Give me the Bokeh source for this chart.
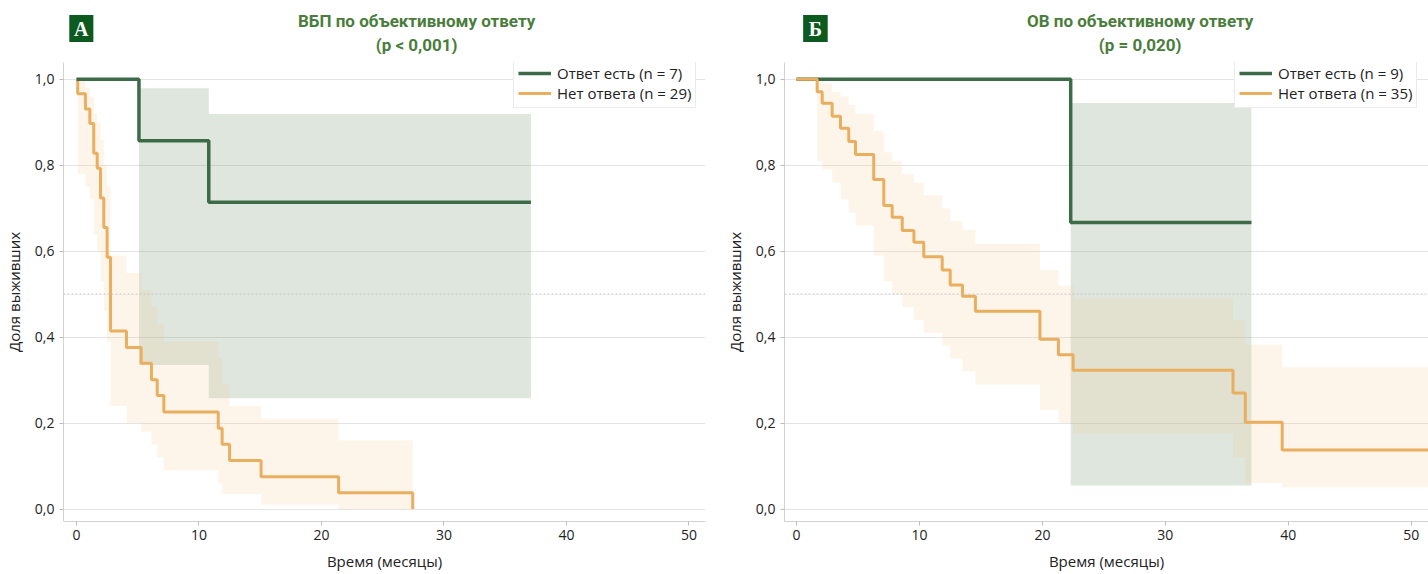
from bokeh.plotting import figure
from bokeh.layouts import row, column
from bokeh.models import Range1d, FixedTicker, Span, Legend, LegendItem, CustomJSTickFormatter
from bokeh.core.properties import value
from bokeh.embed import file_html
from bokeh.resources import INLINE

# ---------------- Panel A (ВБП) ----------------
a_resp_t  = [0.0, 5.1, 10.8, 37.1]
a_resp_s  = [1.0, 0.857, 0.714, 0.714]
a_resp_lo = [1.0, 0.335, 0.258, 0.258]
a_resp_hi = [1.0, 0.979, 0.919, 0.919]

a_non_t  = [0.0, 0.1, 0.73, 1.09, 1.41, 1.69, 1.96, 2.23, 2.5, 2.78, 4.08, 5.28, 6.12, 6.59, 7.13,
            11.57, 11.89, 12.5, 15.07, 21.4, 27.45]
a_non_s  = [1.0, 0.966, 0.931, 0.897, 0.828, 0.793, 0.724, 0.655, 0.586, 0.414, 0.376, 0.339, 0.301,
            0.264, 0.226, 0.188, 0.151, 0.113, 0.075, 0.038, 0.0]
a_non_lo = [1.0, 0.78, 0.75, 0.72, 0.64, 0.60, 0.53, 0.46, 0.39, 0.24, 0.20, 0.18, 0.15, 0.12, 0.09,
            0.06, 0.035, 0.035, 0.01, 0.0, 0.0]
a_non_hi = [1.0, 1.0, 0.98, 0.96, 0.92, 0.90, 0.86, 0.80, 0.75, 0.59, 0.55, 0.51, 0.47, 0.43, 0.39,
            0.35, 0.29, 0.24, 0.21, 0.16, 0.0]

# ---------------- Panel B (ОВ) ----------------
b_resp_t  = [0.0, 22.3, 37.0]
b_resp_s  = [1.0, 0.667, 0.667]
b_resp_lo = [1.0, 0.055, 0.055]
b_resp_hi = [1.0, 0.945, 0.945]

b_non_t  = [0.0, 1.68, 2.09, 2.9, 3.58, 4.25, 4.8, 6.28, 7.1, 7.78, 8.6, 9.55, 10.35, 11.85, 12.5,
            13.5, 14.55, 19.8, 21.3, 22.5, 35.5, 36.5, 39.5, 52.0]
b_non_s  = [1.0, 0.971, 0.944, 0.914, 0.886, 0.855, 0.825, 0.767, 0.706, 0.679, 0.648, 0.621, 0.587,
            0.556, 0.521, 0.495, 0.46, 0.395, 0.359, 0.323, 0.27, 0.202, 0.1375, 0.1375]
b_non_lo = [1.0, 0.81, 0.79, 0.76, 0.72, 0.69, 0.66, 0.59, 0.53, 0.50, 0.47, 0.44, 0.41, 0.38, 0.35,
            0.32, 0.29, 0.23, 0.20, 0.176, 0.12, 0.06, 0.05, 0.05]
b_non_hi = [1.0, 1.0, 0.99, 0.97, 0.96, 0.94, 0.92, 0.88, 0.83, 0.81, 0.78, 0.76, 0.73, 0.70, 0.67,
            0.65, 0.617, 0.556, 0.52, 0.49, 0.44, 0.383, 0.33, 0.33]

x_ticks = [0, 10, 20, 30, 40, 50]
y_ticks = [0.0, 0.2, 0.4, 0.6, 0.8, 1.0]

GREEN = "#3e6b47"
ORANGE = "#e9ae5e"
GREEN_CI = "#6f8f6a"
ORANGE_CI = "#f5c98a"
TITLE_C = "#4a7d3c"
BADGE = "#0c5a20"
TXT = "#222222"
FONT = "Open Sans"
HEAD_H = 54


def make_header(width, title1, title2, tx, letter, lx):
    h = figure(width=width, height=HEAD_H, output_backend="svg", toolbar_location=None,
               x_range=Range1d(0, width), y_range=Range1d(0, HEAD_H),
               x_axis_type=None, y_axis_type=None, title=None)
    h.min_border = 0
    h.outline_line_color = None
    h.xgrid.visible = False
    h.ygrid.visible = False
    h.text(x=[tx, tx], y=[HEAD_H - 20, HEAD_H - 44], text=[title1, title2],
           text_align="center", text_baseline="middle",
           text_font=value("Roboto"), text_font_style="bold",
           text_font_size="17px", text_color=TITLE_C)
    h.rect(x=[lx], y=[HEAD_H - 28], width=27, height=27, fill_color=BADGE, line_color=None)
    h.text(x=[lx], y=[HEAD_H - 28], text=[letter], text_align="center", text_baseline="middle",
           text_font=value("Liberation Serif"), text_font_style="bold",
           text_font_size="20px", text_color="white")
    return h


def make_panel(width, mb_left, mb_right, xr, resp, non, resp_label, non_label, green_on_top):
    p = figure(width=width, height=519, output_backend="svg", toolbar_location=None,
               x_range=Range1d(*xr), y_range=Range1d(-0.029, 1.039), title=None)
    p.min_border_left = mb_left
    p.min_border_right = mb_right
    p.min_border_top = 8
    p.min_border_bottom = 48
    p.outline_line_color = None
    p.background_fill_color = "white"
    p.border_fill_color = "white"

    p.xgrid.grid_line_color = None
    p.ygrid.grid_line_color = "#e4e4e4"
    p.ygrid.grid_line_width = 1

    p.xaxis.ticker = FixedTicker(ticks=x_ticks)
    p.yaxis.ticker = FixedTicker(ticks=y_ticks)
    p.yaxis.formatter = CustomJSTickFormatter(code="return tick.toFixed(1).replace('.', ',');")
    for ax in (p.xaxis, p.yaxis):
        ax.axis_line_color = "#d2d2d2"
        ax.major_tick_line_color = "#bdbdbd"
        ax.major_tick_out = 4
        ax.major_tick_in = 0
        ax.minor_tick_line_color = None
        ax.major_label_text_font = FONT
        ax.major_label_text_font_size = "14px"
        ax.major_label_text_color = TXT
        ax.axis_label_text_font = FONT
        ax.axis_label_text_font_size = "15px"
        ax.axis_label_text_font_style = "normal"
        ax.axis_label_text_color = TXT
    p.xaxis.axis_label = "Время (месяцы)"
    p.yaxis.axis_label = "Доля выживших"
    p.xaxis.major_label_standoff = 4
    p.xaxis.axis_label_standoff = 8
    p.yaxis.major_label_standoff = 5
    p.yaxis.axis_label_standoff = 8

    p.add_layout(Span(location=0.5, dimension="width", line_color="#c4c4c4",
                      line_dash="2 2", line_width=1))

    rt, rs, rlo, rhi = resp
    nt, ns, nlo, nhi = non
    p.varea_step(x=rt, y1=rlo, y2=rhi, step_mode="after", fill_color=GREEN_CI, fill_alpha=0.22)
    p.varea_step(x=nt, y1=nlo, y2=nhi, step_mode="after", fill_color=ORANGE_CI, fill_alpha=0.18)

    if green_on_top:
        ln = p.step(x=nt, y=ns, mode="after", line_color=ORANGE, line_width=3)
        lr = p.step(x=rt, y=rs, mode="after", line_color=GREEN, line_width=3.5)
    else:
        lr = p.step(x=rt, y=rs, mode="after", line_color=GREEN, line_width=3.5)
        ln = p.step(x=nt, y=ns, mode="after", line_color=ORANGE, line_width=3)

    legend = Legend(items=[LegendItem(label=resp_label, renderers=[lr]),
                           LegendItem(label=non_label, renderers=[ln])],
                    location=(450, 413))
    legend.label_text_font = FONT
    legend.label_text_font_size = "15px"
    legend.label_text_color = TXT
    legend.glyph_width = 33
    legend.glyph_height = 20
    legend.label_height = 20
    legend.label_standoff = 6
    legend.spacing = 0
    legend.padding = 4
    legend.margin = 0
    legend.border_line_color = "#d8d8d8"
    legend.background_fill_alpha = 1.0
    p.add_layout(legend)
    return p


ha = make_header(720, "ВБП по объективному ответу", "(p < 0,001)", 396, "А", 20)
pa = make_panel(720, 63, 15, (-1.06, 51.35),
                (a_resp_t, a_resp_s, a_resp_lo, a_resp_hi), (a_non_t, a_non_s, a_non_lo, a_non_hi),
                "Ответ есть (n = 7)", "Нет ответа (n = 29)", True)
hb = make_header(708, "ОВ по объективному ответу", "(p = 0,020)", 391, "Б", 34)
pb = make_panel(708, 64, 0, (-0.976, 51.4),
                (b_resp_t, b_resp_s, b_resp_lo, b_resp_hi), (b_non_t, b_non_s, b_non_lo, b_non_hi),
                "Ответ есть (n = 9)", "Нет ответа (n = 35)", False)

layout = row(column(ha, pa), column(hb, pb))
open("out.html", "w").write(file_html(layout, INLINE))
